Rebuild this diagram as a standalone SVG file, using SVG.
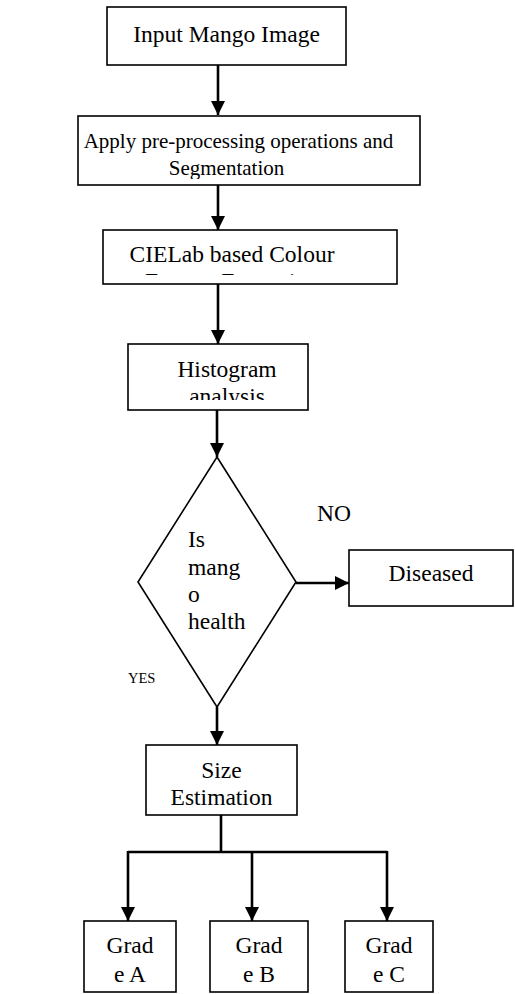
<svg xmlns="http://www.w3.org/2000/svg" width="515" height="994" viewBox="0 0 515 994">
<style>
.box{fill:#fff;stroke:#000;stroke-width:1.6}
.t{font-family:'Liberation Serif','Tinos','DejaVu Serif',serif;font-size:23.5px;fill:#000}
.s{font-size:21px}
.c{text-anchor:middle}
.yes{font-family:'Liberation Serif','Tinos','DejaVu Serif',serif;font-size:14.5px;fill:#000}
.ln{fill:none;stroke:#000;stroke-width:2.6}
</style>
<defs>
<marker id="ah" markerUnits="userSpaceOnUse" markerWidth="14" markerHeight="14" viewBox="0 0 14 14" refX="14" refY="7" orient="auto">
<path d="M0,0 L14,7 L0,14 z" fill="#000"/>
</marker>
<clipPath id="c2"><rect x="78" y="116" width="342" height="63"/></clipPath>
<clipPath id="c3"><rect x="103" y="230" width="294" height="45"/></clipPath>
<clipPath id="c4"><rect x="128" y="344" width="180" height="56"/></clipPath>
</defs>
<g id="connectors">
<line class="ln" x1="218" y1="65" x2="218" y2="115" marker-end="url(#ah)"/>
<line class="ln" x1="218" y1="185" x2="218" y2="230" marker-end="url(#ah)"/>
<line class="ln" x1="218" y1="284" x2="218" y2="344" marker-end="url(#ah)"/>
<line class="ln" x1="217" y1="410" x2="217" y2="457" marker-end="url(#ah)"/>
<line class="ln" x1="296" y1="583" x2="349" y2="583" marker-end="url(#ah)"/>
<line class="ln" x1="217" y1="707" x2="217" y2="745" marker-end="url(#ah)"/>
<polyline class="ln" points="221,815 221,852"/>
<polyline class="ln" points="128,852 387,852"/>
<line class="ln" x1="128" y1="851" x2="128" y2="921" marker-end="url(#ah)"/>
<line class="ln" x1="252" y1="851" x2="252" y2="921" marker-end="url(#ah)"/>
<line class="ln" x1="387" y1="851" x2="387" y2="921" marker-end="url(#ah)"/>
<text class="t" x="317" y="521">NO</text>
<text class="yes" x="128" y="683">YES</text>
</g>
<g id="input">
<rect class="box" x="107" y="7" width="239" height="58"/>
<text class="t c" x="226.5" y="42">Input Mango Image</text>
</g>
<g id="preprocess">
<rect class="box" x="78" y="116" width="342" height="69"/>
<g clip-path="url(#c2)">
<text class="t s c" x="238.5" y="148">Apply pre-processing operations and</text>
<text class="t s c" x="226.5" y="175">Segmentation</text>
</g>
</g>
<g id="cielab">
<rect class="box" x="103" y="230" width="294" height="54"/>
<g clip-path="url(#c3)">
<text class="t c" x="232" y="262">CIELab based Colour</text>
<text class="t c" x="232" y="289">Feature Extraction</text>
</g>
</g>
<g id="histogram">
<rect class="box" x="128" y="344" width="180" height="66"/>
<g clip-path="url(#c4)">
<text class="t c" x="227" y="377">Histogram</text>
<text class="t c" x="227" y="404">analysis</text>
</g>
</g>
<g id="decision">
<polygon class="box" points="217,457 296,582 217,707 138,582"/>
<text class="t" x="188" y="547">Is</text>
<text class="t" x="188" y="575">mang</text>
<text class="t" x="188" y="602">o</text>
<text class="t" x="188" y="629">health</text>
</g>
<g id="diseased">
<rect class="box" x="349" y="550" width="164" height="56"/>
<text class="t c" x="431" y="581">Diseased</text>
</g>
<g id="size">
<rect class="box" x="146" y="745" width="151" height="70"/>
<text class="t c" x="221.5" y="778">Size</text>
<text class="t c" x="221.5" y="805">Estimation</text>
</g>
<g id="gradeA">
<rect class="box" x="84" y="921" width="92" height="71"/>
<text class="t c" x="130" y="953">Grad</text>
<text class="t c" x="130" y="982">e A</text>
</g>
<g id="gradeB">
<rect class="box" x="210" y="921" width="98" height="71"/>
<text class="t c" x="259" y="953">Grad</text>
<text class="t c" x="259" y="982">e B</text>
</g>
<g id="gradeC">
<rect class="box" x="345" y="921" width="88" height="71"/>
<text class="t c" x="389" y="953">Grad</text>
<text class="t c" x="389" y="982">e C</text>
</g>
</svg>
